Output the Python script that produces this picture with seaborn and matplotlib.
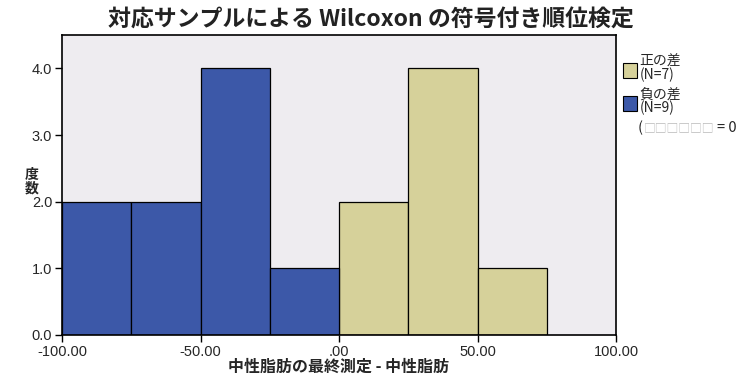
import numpy as np
import pandas as pd
import matplotlib
matplotlib.use("Agg")
import matplotlib.pyplot as plt
import seaborn as sns
from matplotlib.patches import Rectangle

# data
bin_edges = [-100, -75, -50, -25, 0, 25, 50, 75]
bin_centers = [-87.5, -62.5, -37.5, -12.5, 12.5, 37.5, 62.5]
counts = [2, 2, 4, 1, 2, 4, 1]
signs = ["負の差", "負の差", "負の差", "負の差", "正の差", "正の差", "正の差"]
x_ticks = [-100, -50, 0, 50, 100]
x_tick_labels = ["-100.00", "-50.00", ".00", "50.00", "100.00"]
y_ticks = [0, 1, 2, 3, 4]
y_tick_labels = ["0.0", "1.0", "2.0", "3.0", "4.0"]
legend_labels = ["正の差\n(N=7)", "負の差\n(N=9)"]

BLUE = "#3C58A8"
TAN = "#D6D19A"
BG = "#EEECF0"

sns.set_style("white")
plt.rcParams["font.family"] = ["Noto Sans CJK JP", "DejaVu Sans"]

df = pd.DataFrame({"diff": bin_centers, "count": counts, "sign": signs})

fig = plt.figure(figsize=(7.42, 3.85), dpi=100)
ax = fig.add_axes([0.0836, 0.13, 0.7466, 0.779])
ax.set_facecolor(BG)

sns.histplot(data=df, x="diff", weights="count", hue="sign", bins=bin_edges,
             palette={"負の差": BLUE, "正の差": TAN}, multiple="layer",
             alpha=1, edgecolor="black", linewidth=0.9, legend=False, ax=ax)

ax.set_xlim(-100, 100)
ax.set_ylim(0, 4.5)
ax.set_xticks(x_ticks)
ax.set_xticklabels(x_tick_labels)
ax.set_yticks(y_ticks)
ax.set_yticklabels(y_tick_labels)
ax.tick_params(axis="both", direction="out", length=5, width=1, color="black",
               labelsize=10.5, pad=2, bottom=True, left=True)
for lab in ax.get_xticklabels() + ax.get_yticklabels():
    lab.set_family(["Liberation Sans", "DejaVu Sans"])
for sp in ax.spines.values():
    sp.set_color("black")
    sp.set_linewidth(1.2)

ax.set_xlabel("中性脂肪の最終測定 - 中性脂肪", fontsize=11.5, fontweight="bold", labelpad=0)
ax.set_ylabel("")
fig.text(0.043, 0.527, "度\n数", fontsize=10, fontweight="bold", ha="center", va="center",
         linespacing=0.95)

fig.text(0.5, 0.948, "対応サンプルによる Wilcoxon の符号付き順位検定", fontsize=16.5,
         fontweight="bold", ha="center", va="center", color="#222222")

# legend drawn by hand, outside the axes
leg_colors = [TAN, BLUE]
leg_y = [0.818, 0.732]
for col, lab, yy in zip(leg_colors, legend_labels, leg_y):
    fig.patches.append(Rectangle((0.839, yy - 0.02), 0.019, 0.038, transform=fig.transFigure,
                                 facecolor=col, edgecolor="black", linewidth=0.8))
    fig.text(0.862, yy + 0.04, lab, fontsize=10, va="top", ha="left", linespacing=0.92)
fig.text(0.859, 0.668, "(", fontsize=10.5, va="center", ha="left")
fig.text(0.867, 0.668, "□□□□□□", fontsize=8.5, va="center", ha="left", color="#bbbbbb")
fig.text(0.966, 0.668, "= 0", fontsize=10.5, va="center", ha="left")

fig.savefig("out.png", dpi=100)
